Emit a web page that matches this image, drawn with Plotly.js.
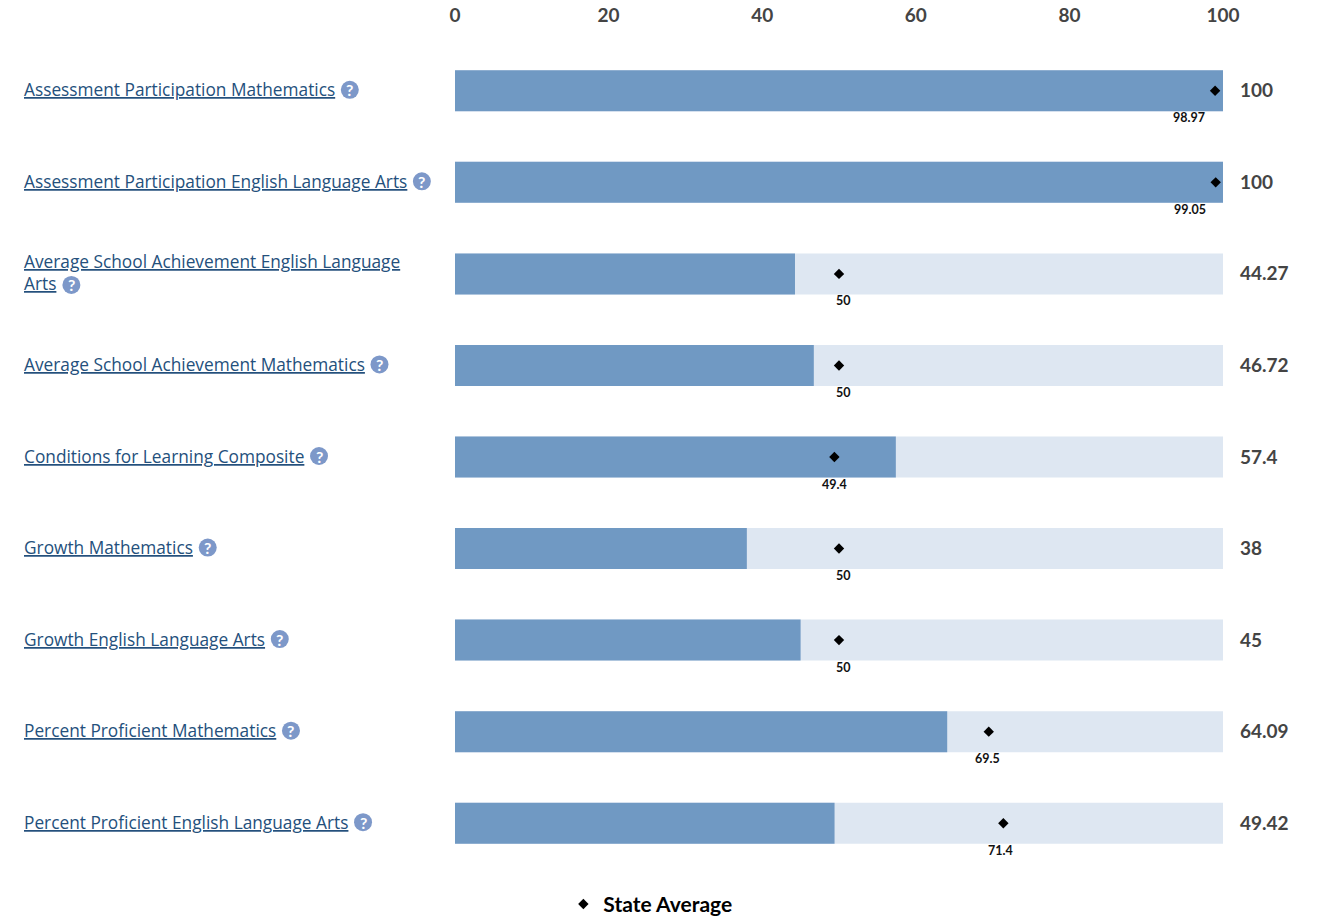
<!DOCTYPE html>
<html><head><meta charset="utf-8">
<script src="https://cdn.plot.ly/plotly-3.0.1.min.js"></script>
<style>html,body{margin:0;padding:0;background:#fff}#c{width:1317px;height:917px}</style>
</head><body><div id="c"></div>
<script>
const categories = ["Assessment Participation Mathematics","Assessment Participation English Language Arts","Average School Achievement English Language Arts","Average School Achievement Mathematics","Conditions for Learning Composite","Growth Mathematics","Growth English Language Arts","Percent Proficient Mathematics","Percent Proficient English Language Arts"];
const labelLines = [["Assessment Participation Mathematics"],["Assessment Participation English Language Arts"],["Average School Achievement English Language","Arts"],["Average School Achievement Mathematics"],["Conditions for Learning Composite"],["Growth Mathematics"],["Growth English Language Arts"],["Percent Proficient Mathematics"],["Percent Proficient English Language Arts"]];
const schoolValues = [100,100,44.27,46.72,57.4,38,45,64.09,49.42];
const stateAverages = [98.97,99.05,50,50,49.4,50,50,69.5,71.4];
const fullScale = [100,100,100,100,100,100,100,100,100];
const xTicks = [0,20,40,60,80,100];

const W=1317,H=917,L=454.5,R=93.5,T=44.7,B=47.7,PW=W-L-R;
const LABEL_X=24;
const stateLabelShift=[-26,-26,4,4,0,4,4,-1,-3];
const BLUE='#7099c3',LIGHT='#dee7f2',LINK='#24507c',GREY='#444444',ICON='#7d98c9';
const LABEL_FONT='Open Sans',LABEL_SIZE=17.3,NUM_FONT='Lato';
const px=x=>(x-L)/PW;
const ctx=document.createElement('canvas').getContext('2d');
ctx.font=LABEL_SIZE+'px "'+LABEL_FONT+'"';

const annotations=[],shapes=[];
categories.forEach((c,i)=>{
  const lines=labelLines[i];
  lines.forEach((t,j)=>{
    annotations.push({xref:'paper',yref:'y',x:px(LABEL_X),y:c,xanchor:'left',yanchor:'middle',align:'left',showarrow:false,xshift:-3,
      yshift:lines.length>1?(j===0?12:-10):1,
      text:t,font:{family:LABEL_FONT,size:LABEL_SIZE,color:LINK,lineposition:'under'}});
  });
  const w=ctx.measureText(lines[lines.length-1]).width;
  const cx=LABEL_X+w+14;
  const dy=lines.length>1?-11:1;
  shapes.push({type:'circle',xref:'paper',yref:'y',xsizemode:'pixel',ysizemode:'pixel',xanchor:px(cx),yanchor:c,
    x0:-9,x1:9,y0:dy-9,y1:dy+9,fillcolor:ICON,line:{width:0},layer:'above'});
  annotations.push({xref:'paper',yref:'y',x:px(cx),y:c,xanchor:'center',yanchor:'middle',showarrow:false,yshift:dy,
    text:'<b>?</b>',font:{family:'Lato',size:16,color:'#fff'}});
  annotations.push({xref:'x',yref:'y',x:100,y:c,xanchor:'left',yanchor:'middle',xshift:15,yshift:1,showarrow:false,
    text:'<b>'+schoolValues[i]+'</b>',font:{family:NUM_FONT,size:19,color:GREY}});
  annotations.push({xref:'x',yref:'y',x:stateAverages[i],y:c,xanchor:'center',yanchor:'middle',xshift:stateLabelShift[i],yshift:-27,showarrow:false,
    text:'<b>'+stateAverages[i]+'</b>',font:{family:NUM_FONT,size:12.5,color:'#111'}});
});

const traces=[
 {type:'bar',orientation:'h',y:categories,x:fullScale,marker:{color:LIGHT},width:0.4476,showlegend:false,hoverinfo:'skip'},
 {type:'bar',orientation:'h',y:categories,x:schoolValues,marker:{color:BLUE},width:0.4476,showlegend:false},
 {type:'scatter',mode:'markers',y:categories,x:stateAverages,name:'<b>State Average</b>',cliponaxis:false,
  marker:{symbol:'diamond',size:8,color:'#000'}}
];
const layout={
 width:W,height:H,margin:{l:L,r:R,t:T,b:B,pad:0,autoexpand:false},paper_bgcolor:'#fff',plot_bgcolor:'#fff',barmode:'overlay',
 font:{family:NUM_FONT},
 xaxis:{side:'top',range:[0,100],tickvals:xTicks,ticktext:xTicks.map(v=>'<b>'+v+'</b>'),showgrid:false,zeroline:false,showline:false,ticks:'',ticklabelstandoff:18,
   tickfont:{family:NUM_FONT,size:19,color:GREY}},
 yaxis:{type:'category',categoryorder:'array',categoryarray:categories,range:[8.5,-0.5],showgrid:false,zeroline:false,showline:false,showticklabels:false,ticks:''},
 showlegend:true,
 legend:{orientation:'h',x:px(563),xanchor:'left',y:-0.018,yanchor:'top',yref:'paper',font:{family:NUM_FONT,size:21,color:'#000'},itemclick:false,itemdoubleclick:false},
 annotations,shapes
};
Plotly.newPlot('c',traces,layout,{displayModeBar:false,responsive:false});
</script></body></html>
